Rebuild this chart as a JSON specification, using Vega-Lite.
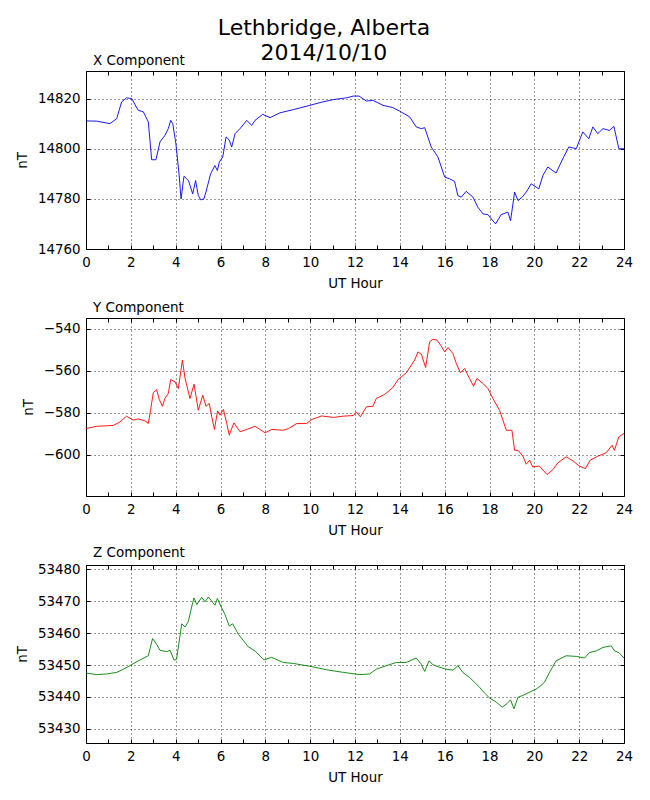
{
  "$schema": "https://vega.github.io/schema/vega-lite/v6.json",
  "title": {
    "text": ["Lethbridge, Alberta", "2014/10/10"],
    "fontSize": 22,
    "fontWeight": "normal",
    "anchor": "middle",
    "lineHeight": 25,
    "offset": -11
  },
  "padding": {"left": 14, "top": 16, "right": 10, "bottom": 10},
  "spacing": 69,
  "bounds": "flush",
  "datasets": {
    "x": [
      {"h": 0, "nT": 14811.1}, {"h": 0.48, "nT": 14811}, {"h": 1.07, "nT": 14810}, {"h": 1.37, "nT": 14812},
      {"h": 1.59, "nT": 14818.7}, {"h": 1.81, "nT": 14820.3}, {"h": 2.04, "nT": 14820}, {"h": 2.33, "nT": 14815.3},
      {"h": 2.56, "nT": 14814.7}, {"h": 2.78, "nT": 14810.7}, {"h": 2.93, "nT": 14795.6}, {"h": 3.12, "nT": 14795.6},
      {"h": 3.3, "nT": 14802.7}, {"h": 3.52, "nT": 14805.3}, {"h": 3.67, "nT": 14808}, {"h": 3.78, "nT": 14811.3},
      {"h": 3.87, "nT": 14810}, {"h": 4.01, "nT": 14802}, {"h": 4.15, "nT": 14790}, {"h": 4.24, "nT": 14780},
      {"h": 4.37, "nT": 14789}, {"h": 4.57, "nT": 14787.3}, {"h": 4.76, "nT": 14782}, {"h": 4.89, "nT": 14787.3},
      {"h": 5.01, "nT": 14781.3}, {"h": 5.12, "nT": 14779.6}, {"h": 5.26, "nT": 14780}, {"h": 5.35, "nT": 14782.7},
      {"h": 5.56, "nT": 14790}, {"h": 5.75, "nT": 14793.3}, {"h": 5.86, "nT": 14791.3}, {"h": 5.95, "nT": 14794.7},
      {"h": 6.1, "nT": 14796.7}, {"h": 6.25, "nT": 14804.7}, {"h": 6.38, "nT": 14803.6}, {"h": 6.5, "nT": 14800.7},
      {"h": 6.65, "nT": 14806}, {"h": 6.87, "nT": 14808}, {"h": 7.17, "nT": 14811.3}, {"h": 7.39, "nT": 14809.3},
      {"h": 7.54, "nT": 14811.3}, {"h": 7.88, "nT": 14813.7}, {"h": 8.21, "nT": 14812.4}, {"h": 8.65, "nT": 14814.3},
      {"h": 9.25, "nT": 14815.6}, {"h": 9.99, "nT": 14817.3}, {"h": 10.44, "nT": 14818.4}, {"h": 11.03, "nT": 14819.6},
      {"h": 11.63, "nT": 14820.3}, {"h": 11.93, "nT": 14821}, {"h": 12.18, "nT": 14821}, {"h": 12.51, "nT": 14819},
      {"h": 12.8, "nT": 14819.3}, {"h": 13.25, "nT": 14817.3}, {"h": 13.69, "nT": 14816.4}, {"h": 13.99, "nT": 14815},
      {"h": 14.44, "nT": 14812.7}, {"h": 14.73, "nT": 14808.7}, {"h": 14.96, "nT": 14808}, {"h": 15.11, "nT": 14808.4},
      {"h": 15.4, "nT": 14800.7}, {"h": 15.7, "nT": 14796.7}, {"h": 16.0, "nT": 14788.7}, {"h": 16.22, "nT": 14788},
      {"h": 16.44, "nT": 14787}, {"h": 16.59, "nT": 14781.3}, {"h": 16.74, "nT": 14780.7}, {"h": 16.96, "nT": 14783},
      {"h": 17.26, "nT": 14780.7}, {"h": 17.48, "nT": 14776.7}, {"h": 17.71, "nT": 14774}, {"h": 17.93, "nT": 14773.7},
      {"h": 18.08, "nT": 14772}, {"h": 18.27, "nT": 14770}, {"h": 18.52, "nT": 14773.7}, {"h": 18.82, "nT": 14774.7},
      {"h": 18.94, "nT": 14771.3}, {"h": 19.12, "nT": 14782.7}, {"h": 19.27, "nT": 14779.3}, {"h": 19.46, "nT": 14780.7},
      {"h": 19.64, "nT": 14782.7}, {"h": 19.86, "nT": 14786}, {"h": 20.2, "nT": 14784}, {"h": 20.38, "nT": 14789.3},
      {"h": 20.6, "nT": 14792.7}, {"h": 20.97, "nT": 14790.3}, {"h": 21.27, "nT": 14796}, {"h": 21.54, "nT": 14800.7},
      {"h": 21.87, "nT": 14800}, {"h": 22.16, "nT": 14806.7}, {"h": 22.43, "nT": 14804}, {"h": 22.61, "nT": 14808.7},
      {"h": 22.83, "nT": 14806}, {"h": 23.06, "nT": 14808}, {"h": 23.35, "nT": 14807.3}, {"h": 23.55, "nT": 14808.9},
      {"h": 23.77, "nT": 14800}, {"h": 24, "nT": 14800}
    ],
    "y": [
      {"h": 0, "nT": -587.5}, {"h": 0.48, "nT": -586.4}, {"h": 1.22, "nT": -586}, {"h": 1.52, "nT": -584.3},
      {"h": 1.81, "nT": -581.6}, {"h": 2.11, "nT": -583.5}, {"h": 2.33, "nT": -582.9}, {"h": 2.63, "nT": -583.8},
      {"h": 2.78, "nT": -585.1}, {"h": 2.88, "nT": -578.8}, {"h": 3.0, "nT": -570.5}, {"h": 3.15, "nT": -569},
      {"h": 3.27, "nT": -573.7}, {"h": 3.41, "nT": -576.9}, {"h": 3.52, "nT": -573.2}, {"h": 3.67, "nT": -570.9},
      {"h": 3.78, "nT": -564.2}, {"h": 3.97, "nT": -565.3}, {"h": 4.12, "nT": -568.5}, {"h": 4.3, "nT": -555},
      {"h": 4.42, "nT": -563.7}, {"h": 4.64, "nT": -573.2}, {"h": 4.82, "nT": -566.4}, {"h": 5.01, "nT": -578.8},
      {"h": 5.21, "nT": -571.6}, {"h": 5.35, "nT": -576.9}, {"h": 5.5, "nT": -575.6}, {"h": 5.61, "nT": -581.9},
      {"h": 5.73, "nT": -587.9}, {"h": 5.87, "nT": -579.1}, {"h": 5.98, "nT": -581.1}, {"h": 6.13, "nT": -578.4},
      {"h": 6.28, "nT": -585.1}, {"h": 6.39, "nT": -590.6}, {"h": 6.6, "nT": -584.8}, {"h": 6.87, "nT": -589},
      {"h": 7.17, "nT": -587.9}, {"h": 7.54, "nT": -586.4}, {"h": 7.99, "nT": -589.5}, {"h": 8.28, "nT": -587.9},
      {"h": 8.8, "nT": -588.3}, {"h": 9.03, "nT": -587.5}, {"h": 9.4, "nT": -585.1}, {"h": 9.84, "nT": -585.1},
      {"h": 10.07, "nT": -583.2}, {"h": 10.51, "nT": -581.5}, {"h": 11.03, "nT": -582.2}, {"h": 11.48, "nT": -581.6},
      {"h": 11.93, "nT": -581.3}, {"h": 12.06, "nT": -579.6}, {"h": 12.24, "nT": -581.9}, {"h": 12.51, "nT": -577.2},
      {"h": 12.8, "nT": -576.9}, {"h": 12.95, "nT": -573.2}, {"h": 13.32, "nT": -571.3}, {"h": 13.69, "nT": -568},
      {"h": 13.92, "nT": -564.2}, {"h": 14.29, "nT": -561}, {"h": 14.66, "nT": -555}, {"h": 14.81, "nT": -551.1},
      {"h": 14.96, "nT": -552.2}, {"h": 15.15, "nT": -558.5}, {"h": 15.33, "nT": -546.3}, {"h": 15.48, "nT": -545.1},
      {"h": 15.66, "nT": -545.5}, {"h": 15.85, "nT": -548.4}, {"h": 16.0, "nT": -551.1}, {"h": 16.15, "nT": -549},
      {"h": 16.37, "nT": -551.9}, {"h": 16.52, "nT": -556.6}, {"h": 16.7, "nT": -561}, {"h": 16.89, "nT": -559},
      {"h": 17.11, "nT": -563.7}, {"h": 17.29, "nT": -567.4}, {"h": 17.44, "nT": -563.7}, {"h": 17.71, "nT": -566.1},
      {"h": 17.93, "nT": -568.5}, {"h": 18.15, "nT": -573.2}, {"h": 18.45, "nT": -578.8}, {"h": 18.75, "nT": -588.3},
      {"h": 19.0, "nT": -588.3}, {"h": 19.12, "nT": -597.8}, {"h": 19.27, "nT": -597.8}, {"h": 19.49, "nT": -600.6},
      {"h": 19.64, "nT": -604.4}, {"h": 19.79, "nT": -602.5}, {"h": 19.93, "nT": -605.7}, {"h": 20.23, "nT": -605.3},
      {"h": 20.38, "nT": -607.2}, {"h": 20.57, "nT": -609.3}, {"h": 20.83, "nT": -606.9}, {"h": 21.05, "nT": -603.8},
      {"h": 21.42, "nT": -600.9}, {"h": 21.72, "nT": -602.8}, {"h": 22.01, "nT": -605.3}, {"h": 22.28, "nT": -606.5},
      {"h": 22.49, "nT": -602.5}, {"h": 22.83, "nT": -600.6}, {"h": 23.2, "nT": -599}, {"h": 23.47, "nT": -595.4},
      {"h": 23.57, "nT": -597.8}, {"h": 23.77, "nT": -591.4}, {"h": 24, "nT": -589.8}
    ],
    "z": [
      {"h": 0, "nT": 53447.5}, {"h": 0.48, "nT": 53447}, {"h": 0.92, "nT": 53447.2}, {"h": 1.37, "nT": 53447.7},
      {"h": 1.67, "nT": 53448.7}, {"h": 1.96, "nT": 53449.8}, {"h": 2.33, "nT": 53451.3}, {"h": 2.78, "nT": 53452.9},
      {"h": 2.97, "nT": 53458.3}, {"h": 3.15, "nT": 53456.5}, {"h": 3.3, "nT": 53454.6}, {"h": 3.6, "nT": 53454.2},
      {"h": 3.75, "nT": 53454.6}, {"h": 3.93, "nT": 53451.5}, {"h": 4.04, "nT": 53451.8}, {"h": 4.27, "nT": 53462.9},
      {"h": 4.42, "nT": 53461.9}, {"h": 4.57, "nT": 53463.7}, {"h": 4.71, "nT": 53468.1}, {"h": 4.82, "nT": 53471},
      {"h": 4.94, "nT": 53468.9}, {"h": 5.16, "nT": 53471.2}, {"h": 5.31, "nT": 53469.8}, {"h": 5.46, "nT": 53471.3},
      {"h": 5.61, "nT": 53470}, {"h": 5.75, "nT": 53468.7}, {"h": 5.86, "nT": 53470.8}, {"h": 6.05, "nT": 53467.9},
      {"h": 6.2, "nT": 53465.8}, {"h": 6.39, "nT": 53462.2}, {"h": 6.54, "nT": 53462.9}, {"h": 6.8, "nT": 53459.6},
      {"h": 7.24, "nT": 53455.7}, {"h": 7.54, "nT": 53454.4}, {"h": 7.94, "nT": 53451.6}, {"h": 8.28, "nT": 53452.4},
      {"h": 8.8, "nT": 53450.8}, {"h": 9.25, "nT": 53450.5}, {"h": 9.99, "nT": 53449.6}, {"h": 10.74, "nT": 53448.5},
      {"h": 11.48, "nT": 53447.7}, {"h": 12.21, "nT": 53447}, {"h": 12.65, "nT": 53447.2}, {"h": 12.95, "nT": 53448.7},
      {"h": 13.4, "nT": 53449.8}, {"h": 13.84, "nT": 53450.8}, {"h": 14.29, "nT": 53450.8}, {"h": 14.73, "nT": 53452.2},
      {"h": 14.93, "nT": 53450.5}, {"h": 15.11, "nT": 53448}, {"h": 15.3, "nT": 53451.3}, {"h": 15.48, "nT": 53450.1},
      {"h": 15.77, "nT": 53449.3}, {"h": 16.07, "nT": 53448.7}, {"h": 16.37, "nT": 53448.4}, {"h": 16.59, "nT": 53449.8},
      {"h": 16.81, "nT": 53447.7}, {"h": 17.11, "nT": 53446.1}, {"h": 17.38, "nT": 53444.3}, {"h": 17.56, "nT": 53443},
      {"h": 17.78, "nT": 53441.2}, {"h": 18.0, "nT": 53439.7}, {"h": 18.3, "nT": 53438.4}, {"h": 18.57, "nT": 53436.8},
      {"h": 18.78, "nT": 53437.9}, {"h": 18.94, "nT": 53439.1}, {"h": 19.09, "nT": 53436.3}, {"h": 19.27, "nT": 53439.9},
      {"h": 19.49, "nT": 53440.5}, {"h": 19.79, "nT": 53441.5}, {"h": 20.08, "nT": 53442.5}, {"h": 20.3, "nT": 53443.6},
      {"h": 20.45, "nT": 53444.6}, {"h": 20.68, "nT": 53447.7}, {"h": 20.97, "nT": 53451.3}, {"h": 21.42, "nT": 53452.9},
      {"h": 21.87, "nT": 53452.7}, {"h": 22.24, "nT": 53452.2}, {"h": 22.46, "nT": 53453.9}, {"h": 22.76, "nT": 53454.4},
      {"h": 23.06, "nT": 53455.5}, {"h": 23.43, "nT": 53456}, {"h": 23.58, "nT": 53454.4}, {"h": 23.77, "nT": 53453.9},
      {"h": 24, "nT": 53452.2}
    ]
  },
  "vconcat": [
    {
      "title": {"text": "X Component", "anchor": "start", "frame": "group", "dx": 7},
      "width": 538,
      "height": 178,
      "data": {"name": "x"},
      "layer": [
        {
          "mark": {"type": "line", "color": "#0000ff", "strokeWidth": 0.9},
          "encoding": {
            "x": {"field": "h", "type": "quantitative", "scale": {"domain": [0, 24]},
                  "axis": {"orient": "bottom", "title": "UT Hour", "grid": true, "labelPadding": 10, "titlePadding": 8,
                           "values": [0, 1, 2, 3, 4, 5, 6, 7, 8, 9, 10, 11, 12, 13, 14, 15, 16, 17, 18, 19, 20, 21, 22, 23, 24],
                           "labelExpr": "datum.value % 2 === 0 ? datum.label : ''",
                           "gridOpacity": {"condition": {"test": "datum.value % 2 === 0", "value": 1}, "value": 0}}},
            "y": {"field": "nT", "type": "quantitative", "scale": {"domain": [14760, 14831], "zero": false},
                  "axis": {"orient": "left", "title": "nT", "grid": true, "titlePadding": 8, "values": [14760, 14780, 14800, 14820], "format": "d"}}
          }
        },
        {
          "mark": {"type": "line", "strokeOpacity": 0},
          "encoding": {
            "x": {"field": "h", "type": "quantitative", "scale": {"domain": [0, 24]},
                  "axis": {"orient": "top", "title": null, "labels": false, "grid": false,
                           "values": [0, 1, 2, 3, 4, 5, 6, 7, 8, 9, 10, 11, 12, 13, 14, 15, 16, 17, 18, 19, 20, 21, 22, 23, 24]}},
            "y": {"field": "nT", "type": "quantitative", "scale": {"domain": [14760, 14831], "zero": false},
                  "axis": {"orient": "right", "title": null, "labels": false, "grid": false, "values": [14760, 14780, 14800, 14820]}}
          }
        }
      ],
      "resolve": {"scale": {"x": "independent", "y": "independent"}}
    },
    {
      "title": {"text": "Y Component", "anchor": "start", "frame": "group", "dx": 7},
      "width": 538,
      "height": 178,
      "data": {"name": "y"},
      "layer": [
        {
          "mark": {"type": "line", "color": "#ff0000", "strokeWidth": 0.9},
          "encoding": {
            "x": {"field": "h", "type": "quantitative", "scale": {"domain": [0, 24]},
                  "axis": {"orient": "bottom", "title": "UT Hour", "grid": true, "labelPadding": 10, "titlePadding": 8,
                           "values": [0, 1, 2, 3, 4, 5, 6, 7, 8, 9, 10, 11, 12, 13, 14, 15, 16, 17, 18, 19, 20, 21, 22, 23, 24],
                           "labelExpr": "datum.value % 2 === 0 ? datum.label : ''",
                           "gridOpacity": {"condition": {"test": "datum.value % 2 === 0", "value": 1}, "value": 0}}},
            "y": {"field": "nT", "type": "quantitative", "scale": {"domain": [-619.5, -535], "zero": false},
                  "axis": {"orient": "left", "title": "nT", "grid": true, "titlePadding": 8, "values": [-600, -580, -560, -540], "format": "d"}}
          }
        },
        {
          "mark": {"type": "line", "strokeOpacity": 0},
          "encoding": {
            "x": {"field": "h", "type": "quantitative", "scale": {"domain": [0, 24]},
                  "axis": {"orient": "top", "title": null, "labels": false, "grid": false,
                           "values": [0, 1, 2, 3, 4, 5, 6, 7, 8, 9, 10, 11, 12, 13, 14, 15, 16, 17, 18, 19, 20, 21, 22, 23, 24]}},
            "y": {"field": "nT", "type": "quantitative", "scale": {"domain": [-619.5, -535], "zero": false},
                  "axis": {"orient": "right", "title": null, "labels": false, "grid": false, "values": [-600, -580, -560, -540]}}
          }
        }
      ],
      "resolve": {"scale": {"x": "independent", "y": "independent"}}
    },
    {
      "title": {"text": "Z Component", "anchor": "start", "frame": "group", "dx": 7},
      "width": 538,
      "height": 178,
      "data": {"name": "z"},
      "layer": [
        {
          "mark": {"type": "line", "color": "#008000", "strokeWidth": 0.9},
          "encoding": {
            "x": {"field": "h", "type": "quantitative", "scale": {"domain": [0, 24]},
                  "axis": {"orient": "bottom", "title": "UT Hour", "grid": true, "labelPadding": 10, "titlePadding": 8,
                           "values": [0, 1, 2, 3, 4, 5, 6, 7, 8, 9, 10, 11, 12, 13, 14, 15, 16, 17, 18, 19, 20, 21, 22, 23, 24],
                           "labelExpr": "datum.value % 2 === 0 ? datum.label : ''",
                           "gridOpacity": {"condition": {"test": "datum.value % 2 === 0", "value": 1}, "value": 0}}},
            "y": {"field": "nT", "type": "quantitative", "scale": {"domain": [53425.6, 53481.3], "zero": false},
                  "axis": {"orient": "left", "title": "nT", "grid": true, "titlePadding": 8, "values": [53430, 53440, 53450, 53460, 53470, 53480], "format": "d"}}
          }
        },
        {
          "mark": {"type": "line", "strokeOpacity": 0},
          "encoding": {
            "x": {"field": "h", "type": "quantitative", "scale": {"domain": [0, 24]},
                  "axis": {"orient": "top", "title": null, "labels": false, "grid": false,
                           "values": [0, 1, 2, 3, 4, 5, 6, 7, 8, 9, 10, 11, 12, 13, 14, 15, 16, 17, 18, 19, 20, 21, 22, 23, 24]}},
            "y": {"field": "nT", "type": "quantitative", "scale": {"domain": [53425.6, 53481.3], "zero": false},
                  "axis": {"orient": "right", "title": null, "labels": false, "grid": false, "values": [53430, 53440, 53450, 53460, 53470, 53480]}}
          }
        }
      ],
      "resolve": {"scale": {"x": "independent", "y": "independent"}}
    }
  ],
  "config": {
    "font": "DejaVu Sans",
    "view": {"stroke": "black", "strokeWidth": 1},
    "title": {"font": "DejaVu Sans", "fontSize": 13.5, "fontWeight": "normal", "color": "black", "offset": 3},
    "axis": {
      "domain": false,
      "tickSize": -4,
      "tickColor": "black",
      "tickWidth": 1,
      "labelFont": "DejaVu Sans",
      "labelFontSize": 13.4,
      "labelColor": "black",
      "labelPadding": 10,
      "labelFlush": false,
      "labelOverlap": false,
      "labelBound": false,
      "titleFont": "DejaVu Sans",
      "titleFontSize": 13.4,
      "titleFontWeight": "normal",
      "titleColor": "black",
      "titlePadding": 6,
      "gridColor": "black",
      "gridDash": [1, 3],
      "gridWidth": 0.8
    }
  }
}
